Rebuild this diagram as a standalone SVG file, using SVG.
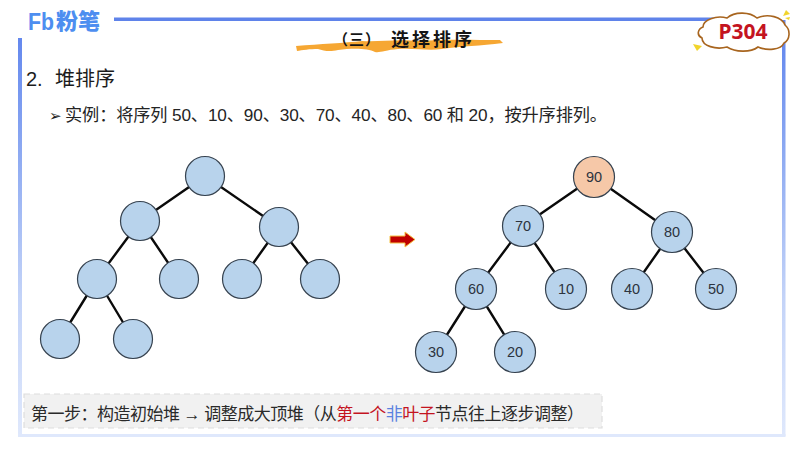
<svg xmlns="http://www.w3.org/2000/svg" width="800" height="450" viewBox="0 0 800 450">
<defs>
<linearGradient id="fade" gradientUnits="userSpaceOnUse" x1="0" y1="38" x2="0" y2="436">
<stop offset="0" stop-color="#6488ee"/><stop offset="0.3" stop-color="#8fabf2"/><stop offset="0.65" stop-color="#c3d3f8"/><stop offset="1" stop-color="#dfe8fc"/>
</linearGradient>
</defs>
<style>
.s{font-family:"Liberation Sans","Noto Sans CJK SC",sans-serif}
.n{fill:#b8d3ec;stroke:#36424f;stroke-width:1.2}
.o{fill:#f6c8a8;stroke:#36424f;stroke-width:1.2}
.e{stroke:#0a0a0a;stroke-width:2.4;fill:none}
.l{font-family:"Liberation Sans",sans-serif;font-size:14.500px;fill:#2c3440;text-anchor:middle}
.bar{fill:url(#fade)}
</style>
<rect width="800" height="450" fill="#fff"/>
<g id="frame">
<rect x="114" y="17.500" width="625" height="3.500" fill="#5f83ea"/>
<rect x="18" y="38" width="4" height="398" class="bar"/>
<rect x="782" y="20" width="3.500" height="416" class="bar"/>
<rect x="18" y="434" width="767.500" height="3" fill="#dfe8fc"/>
</g>
<g id="logo">
<text x="28" y="30" font-family="Liberation Sans,sans-serif" font-weight="700" font-size="23" fill="#4d8ef0" textLength="26" lengthAdjust="spacingAndGlyphs">Fb</text>
<text x="56" y="29" font-family="Noto Sans CJK SC,sans-serif" font-weight="900" font-size="22" fill="#4d8ef0">粉笔</text>
</g>
<g id="title">
<path d="M296 46C320 44 345 43 362 41C380 42 395 39 420 41C445 39 475 40 500 40L503 43C480 46 462 46 442 49C428 51 415 48 398 49C385 50 380 53 375 52C368 48 352 48 338 50C330 52 324 51 318 49C310 49 302 50 297 51Z" fill="#f6a733"/>
<text x="333" y="45" font-family="Noto Sans CJK SC,sans-serif" font-weight="700" font-size="15" fill="#151515" letter-spacing="1">（三）</text>
<text x="391" y="46" font-family="Noto Sans CJK SC,sans-serif" font-weight="700" font-size="18" fill="#151515" letter-spacing="3">选择排序</text>
</g>
<g id="badge">
<path d="M703 27C703 20 716 15 727 18C735 11 750 12 757 18C768 13 782 17 785 25C791 30 790 40 784 43C781 50 767 51 758 47C750 53 735 52 727 47C716 50 702 46 702 38C696 35 698 29 703 27Z" fill="#fff" stroke="#a8651f" stroke-width="1.600"/>
<text x="743" y="39" font-family="Noto Sans,Liberation Sans,sans-serif" font-weight="700" font-size="21" fill="#c4141f" text-anchor="middle">P304</text>
<path d="M693 44L702 46L697 51Z" fill="#f1d42b"/>
<path d="M783 16L786 10L790 14Z M785 18L790 17L789 20Z" fill="#f1d42b"/>
</g>
<text x="26" y="86" class="s" font-size="20" fill="#1c1c1c">2.</text>
<text x="55" y="86" class="s" font-size="20" fill="#1c1c1c">堆排序</text>
<text x="49" y="121" font-family="DejaVu Sans,sans-serif" font-size="15" fill="#1c1c1c">➢</text>
<text x="65" y="121" class="s" font-size="17.200" fill="#242424" textLength="542">实例：将序列 50、10、90、30、70、40、80、60 和 20，按升序排列。</text>
<g id="connectors">
<path class="e" d="M205 176L140 221M205 176L279 227M140 221L97 279M140 221L179 279M279 227L242 279M279 227L320 279M97 279L60 339M97 279L133 339"/>
<path class="e" d="M594 177L523 226M594 177L672 232M523 226L476 289M523 226L566 289M672 232L632 289M672 232L716 289M476 289L436 352M476 289L515 352"/>
</g>
<g id="a0"><circle class="n" cx="205" cy="176" r="19.500"/></g>
<g id="a1"><circle class="n" cx="140" cy="221" r="19.500"/></g>
<g id="a2"><circle class="n" cx="279" cy="227" r="19.500"/></g>
<g id="a3"><circle class="n" cx="97" cy="279" r="19.500"/></g>
<g id="a4"><circle class="n" cx="179" cy="279" r="19.500"/></g>
<g id="a5"><circle class="n" cx="242" cy="279" r="19.500"/></g>
<g id="a6"><circle class="n" cx="320" cy="279" r="19.500"/></g>
<g id="a7"><circle class="n" cx="60" cy="339" r="19.500"/></g>
<g id="a8"><circle class="n" cx="133" cy="339" r="19.500"/></g>
<g id="b90"><circle class="o" cx="594" cy="177" r="20.500"/><text class="l" x="594" y="182">90</text></g>
<g id="b70"><circle class="n" cx="523" cy="226" r="20.500"/><text class="l" x="523" y="231">70</text></g>
<g id="b80"><circle class="n" cx="672" cy="232" r="20.500"/><text class="l" x="672" y="237">80</text></g>
<g id="b60"><circle class="n" cx="476" cy="289" r="20.500"/><text class="l" x="476" y="294">60</text></g>
<g id="b10"><circle class="n" cx="566" cy="289" r="20.500"/><text class="l" x="566" y="294">10</text></g>
<g id="b40"><circle class="n" cx="632" cy="289" r="20.500"/><text class="l" x="632" y="294">40</text></g>
<g id="b50"><circle class="n" cx="716" cy="289" r="20.500"/><text class="l" x="716" y="294">50</text></g>
<g id="b30"><circle class="n" cx="436" cy="352" r="20.500"/><text class="l" x="436" y="357">30</text></g>
<g id="b20"><circle class="n" cx="515" cy="352" r="20.500"/><text class="l" x="515" y="357">20</text></g>
<path id="arrow" d="M390 236H405V232L415 239.500L405 247V243H390Z" fill="#c00000" stroke="#f5c242" stroke-width="1"/>
<g id="note">
<rect x="24" y="394" width="578" height="34" fill="#f1f1f1" stroke="#dedede" stroke-width="1.200" stroke-dasharray="6 4"/>
<text x="31" y="420" class="s" font-size="17" fill="#2a2a2a" textLength="553">第一步：构造初始堆 → 调整成大顶堆（从<tspan fill="#c4141f">第一个</tspan><tspan fill="#5b82e0">非</tspan><tspan fill="#c4141f">叶子</tspan>节点往上逐步调整）</text>
</g>
</svg>
